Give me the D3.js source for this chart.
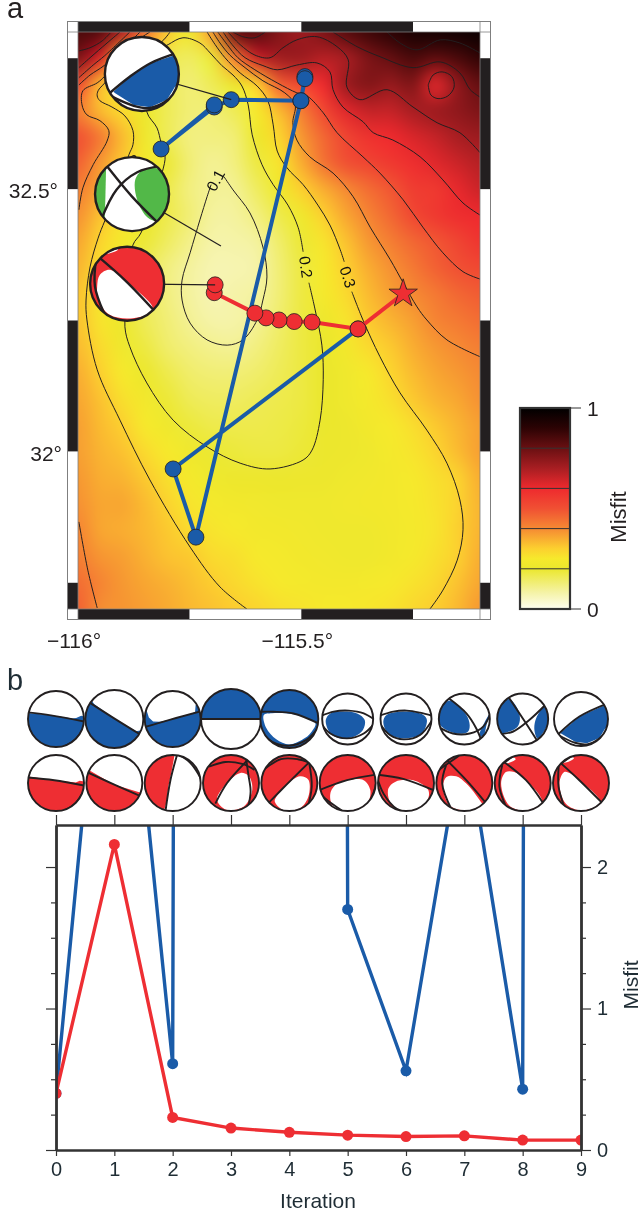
<!DOCTYPE html>
<html>
<head>
<meta charset="utf-8">
<script src="https://cdn.jsdelivr.net/npm/d3@7"></script>
<style>
  html, body { margin:0; padding:0; background:#fff; }
  #wrap { position:relative; width:640px; height:1214px; }
  #wrap canvas, #wrap svg { position:absolute; }
  text { font-family:"Liberation Sans", Arial, sans-serif; }
</style>
<title></title>
</head>
<body>
<div id="wrap"></div>
<script>
// misfit surface, every 0.05 degrees, north to south
var gridLons = d3.range(19).map(function(i){ return -116 + i*0.05; });
var gridLats = d3.range(23).map(function(i){ return 32.8 - i*0.05; });
var misfitGrid = [
 [.85,.83,.68,.45,.31,.22,.38,.80,.83,.76,.72,.77,.83,.87,.90,.94,.95,.96,.97],
 [.77,.63,.32,.22,.17,.15,.19,.42,.65,.71,.72,.68,.70,.77,.81,.85,.82,.85,.89],
 [.52,.33,.22,.19,.16,.13,.16,.21,.30,.47,.52,.60,.72,.76,.73,.76,.62,.74,.81],
 [.42,.33,.28,.21,.16,.13,.13,.16,.25,.33,.42,.52,.62,.66,.66,.70,.72,.74,.77],
 [.50,.43,.33,.22,.16,.12,.12,.13,.21,.29,.38,.46,.53,.58,.60,.63,.66,.70,.72],
 [.47,.38,.31,.24,.19,.13,.10,.12,.18,.26,.35,.44,.50,.53,.56,.59,.62,.65,.68],
 [.42,.36,.29,.23,.17,.12,.10,.10,.15,.22,.30,.35,.40,.45,.49,.55,.56,.61,.65],
 [.39,.32,.26,.21,.17,.13,.09,.09,.12,.17,.22,.30,.36,.41,.46,.52,.56,.59,.60],
 [.36,.29,.24,.19,.15,.11,.08,.08,.09,.14,.19,.26,.32,.38,.42,.46,.49,.53,.57],
 [.34,.27,.21,.16,.12,.09,.07,.07,.08,.13,.18,.25,.30,.35,.39,.43,.47,.50,.52],
 [.32,.26,.205,.16,.12,.09,.07,.08,.09,.13,.18,.24,.28,.33,.37,.40,.43,.46,.48],
 [.32,.26,.21,.16,.13,.10,.08,.08,.10,.14,.18,.21,.26,.31,.34,.37,.41,.43,.45],
 [.33,.28,.22,.18,.14,.12,.105,.10,.12,.15,.18,.20,.23,.28,.31,.35,.38,.40,.42],
 [.35,.30,.25,.205,.17,.14,.13,.13,.14,.16,.18,.20,.22,.25,.29,.33,.36,.38,.40],
 [.36,.32,.27,.23,.19,.16,.15,.15,.16,.17,.18,.20,.22,.24,.27,.31,.34,.36,.39],
 [.37,.33,.30,.25,.22,.185,.17,.17,.17,.175,.185,.20,.21,.23,.25,.275,.31,.34,.37],
 [.37,.34,.32,.28,.25,.22,.195,.185,.18,.18,.19,.205,.21,.22,.24,.26,.29,.33,.37],
 [.38,.35,.34,.31,.27,.24,.22,.21,.21,.205,.21,.21,.22,.225,.235,.25,.27,.295,.35],
 [.39,.36,.36,.33,.295,.26,.24,.23,.225,.22,.22,.22,.225,.23,.235,.245,.265,.295,.34],
 [.41,.36,.35,.335,.31,.28,.26,.25,.235,.23,.225,.22,.22,.22,.23,.24,.26,.30,.34],
 [.42,.385,.37,.345,.32,.31,.28,.27,.25,.24,.23,.225,.22,.22,.23,.245,.27,.30,.35],
 [.45,.41,.38,.36,.345,.325,.305,.285,.265,.25,.24,.235,.235,.24,.25,.265,.285,.32,.36],
 [.47,.395,.385,.37,.355,.335,.32,.305,.29,.27,.26,.25,.25,.255,.265,.285,.305,.335,.38]
];

// colour table of the misfit bar
var cptValues = [0, .08, .2, .25, .3, .4, .5, .6, .7, .8, .9, 1];
var cptColors = ["#fefef0","#f5f3a8","#ebe72d","#f6e92c","#fcd02f","#f58a33","#f05033","#ee2a2e","#a81e22","#6a1012","#2c0304","#000000"];
var cptLines = [.2, .4, .6, .8];

// contour lines [lon, lat]
var contourOne = [[-115.673,32.524],[-115.653,32.499],[-115.615,32.455],[-115.586,32.390],[-115.577,32.333],[-115.586,32.289],[-115.599,32.251],[-115.631,32.213],[-115.666,32.203],[-115.711,32.213],[-115.749,32.245],[-115.767,32.289],[-115.767,32.327],[-115.749,32.379],[-115.727,32.442],[-115.711,32.486],[-115.702,32.509]];
var contourTwo = [[-115.483,32.322],[-115.469,32.270],[-115.454,32.203],[-115.451,32.137],[-115.458,32.060],[-115.476,32.003],[-115.496,31.984],[-115.570,31.967],[-115.637,31.978],[-115.711,32.009],[-115.787,32.060],[-115.846,32.131],[-115.884,32.200],[-115.895,32.238],[-115.888,32.308],[-115.877,32.394],[-115.859,32.417],[-115.812,32.531],[-115.805,32.564],[-115.814,32.589],[-115.823,32.617],[-115.846,32.648],[-115.839,32.699],[-115.816,32.766],[-115.798,32.776],[-115.765,32.789],[-115.727,32.779],[-115.704,32.760],[-115.678,32.736],[-115.653,32.718],[-115.633,32.697],[-115.619,32.661],[-115.610,32.604],[-115.588,32.547],[-115.563,32.509],[-115.530,32.470],[-115.507,32.427],[-115.496,32.381]];
var contourThreeNorth = [[-115.711,32.800],[-115.693,32.776],[-115.671,32.751],[-115.637,32.722],[-115.599,32.697],[-115.575,32.669],[-115.563,32.623],[-115.554,32.573],[-115.532,32.541],[-115.496,32.509],[-115.463,32.470],[-115.436,32.432],[-115.413,32.385],[-115.404,32.362]];
var contourThreeSouth = [[-115.387,32.305],[-115.362,32.251],[-115.324,32.181],[-115.279,32.112],[-115.219,32.041],[-115.174,31.978],[-115.145,31.908],[-115.138,31.851],[-115.151,31.793],[-115.183,31.736],[-115.212,31.700]];
var contourThreeWest = [[-115.794,32.800],[-115.816,32.779],[-115.895,32.747],[-115.940,32.703],[-115.955,32.688],[-115.957,32.678],[-115.951,32.669],[-115.924,32.657],[-115.895,32.640],[-115.877,32.612],[-115.877,32.585],[-115.886,32.566],[-115.910,32.499],[-115.940,32.440],[-115.955,32.407],[-115.973,32.352],[-115.982,32.289],[-115.980,32.251],[-115.957,32.156],[-115.906,32.060],[-115.839,31.946],[-115.749,31.818],[-115.682,31.742],[-115.622,31.700]];
var contourFourEast = [[-115.698,32.800],[-115.682,32.779],[-115.660,32.756],[-115.626,32.732],[-115.586,32.707],[-115.537,32.684],[-115.514,32.661],[-115.519,32.627],[-115.510,32.594],[-115.481,32.562],[-115.429,32.531],[-115.384,32.486],[-115.346,32.428],[-115.301,32.366],[-115.272,32.322],[-115.241,32.276],[-115.219,32.251],[-115.174,32.213],[-115.100,32.181]];
var contourFourWest = [[-115.839,32.800],[-115.895,32.766],[-115.940,32.716],[-115.957,32.703],[-115.989,32.688],[-115.991,32.661],[-115.980,32.642],[-115.951,32.631],[-115.931,32.612],[-115.935,32.592],[-115.966,32.547],[-115.989,32.503],[-115.998,32.461]];
var contourFourCorner = [[-115.998,31.866],[-115.978,31.774],[-115.957,31.702]];
var contourFiveEast = [[-115.687,32.800],[-115.666,32.776],[-115.642,32.751],[-115.604,32.728],[-115.554,32.703],[-115.510,32.684],[-115.487,32.678],[-115.451,32.646],[-115.420,32.608],[-115.362,32.562],[-115.324,32.531],[-115.272,32.480],[-115.228,32.428],[-115.183,32.379],[-115.138,32.343],[-115.100,32.329]];
var contourFiveWest = [[-115.998,32.699],[-115.973,32.718],[-115.940,32.737],[-115.861,32.800]];
var contourSixEast = [[-115.675,32.800],[-115.655,32.776],[-115.626,32.751],[-115.586,32.736],[-115.554,32.728],[-115.510,32.737],[-115.465,32.741],[-115.436,32.724],[-115.429,32.690],[-115.407,32.657],[-115.362,32.629],[-115.339,32.608],[-115.295,32.594],[-115.234,32.562],[-115.183,32.518],[-115.138,32.474],[-115.100,32.451]];
var contourSixWest = [[-115.998,32.713],[-115.966,32.737],[-115.940,32.755],[-115.884,32.800]];
var contourSevenEast = [[-115.664,32.800],[-115.637,32.776],[-115.604,32.756],[-115.570,32.751],[-115.541,32.770],[-115.510,32.785],[-115.465,32.791],[-115.420,32.772],[-115.395,32.747],[-115.398,32.695],[-115.369,32.671],[-115.308,32.690],[-115.250,32.657],[-115.196,32.627],[-115.145,32.608],[-115.100,32.570]];
var contourSevenWest = [[-115.998,32.732],[-115.973,32.751],[-115.935,32.779],[-115.906,32.800]];
var contourSevenLoop = [[-115.216,32.699],[-115.205,32.718],[-115.185,32.724],[-115.163,32.715],[-115.158,32.695],[-115.172,32.678],[-115.194,32.673],[-115.210,32.680],[-115.216,32.699]];
var contourEightTop = [[-115.653,32.800],[-115.631,32.791],[-115.604,32.789],[-115.581,32.800]];
var contourEightEast = [[-115.429,32.800],[-115.375,32.772],[-115.324,32.753],[-115.250,32.732],[-115.189,32.743],[-115.145,32.722],[-115.122,32.690],[-115.100,32.676]];
var contourEightWest = [[-115.998,32.764],[-115.973,32.770],[-115.946,32.783],[-115.928,32.798]];
var contourNine = [[-115.308,32.800],[-115.279,32.779],[-115.241,32.766],[-115.189,32.785],[-115.145,32.779],[-115.100,32.760]];
var contourLines = [contourOne, contourTwo, contourThreeNorth, contourThreeSouth, contourThreeWest, contourFourEast, contourFourWest, contourFourCorner, contourFiveEast, contourFiveWest, contourSixEast, contourSixWest, contourSevenEast, contourSevenWest, contourSevenLoop, contourEightTop, contourEightEast, contourEightWest, contourNine];
var contourLabels = [
  {text:"0.1", lon:-115.692, lat:32.517, rot:-62},
  {text:"0.2", lon:-115.490, lat:32.352, rot:82},
  {text:"0.3", lon:-115.396, lat:32.333, rot:72},
  {text:"0.3", lon:-115.888, lat:32.551, rot:-20}
];

// source location and inversion tracks on the map
var epicentre = [-115.272, 32.301];
var redTrack = [[-115.272,32.301],[-115.373,32.234],[-115.476,32.247],[-115.516,32.248],[-115.550,32.251],[-115.579,32.255],[-115.604,32.264],[-115.695,32.303],[-115.693,32.318]];
var blueTrack = [[-115.373,32.234],[-115.787,31.967],[-115.736,31.837],[-115.501,32.669],[-115.492,32.715],[-115.492,32.711],[-115.501,32.669],[-115.657,32.671],[-115.695,32.657],[-115.814,32.577],[-115.695,32.661]];

// misfit per iteration (blue runs far off the top of the plot)
var iterations = d3.range(10);
var redMisfit = [.40, 2.16, .23, .155, .125, .105, .095, .10, .07, .07];
var blueMisfit = [.40, 4.7, .61, 150, 150, 1.7, .56, 3.0, .43, 150];
var yMajor = [0, 1, 2];
var yMinor = [.25, .5, .75, 1.25, 1.5, 1.75];

// beachballs, outlines in percent of the radius, y pointing down
var mechFinal = {fills:[[[-77,48],[-32,7],[23,-29],[90,-51],[125,-51],[125,40],[90,34],[68,70],[22,90],[-22,84],[-72,52]]],
  lines:[[[-82,50],[-32,7],[23,-29],[95,-54]],[[-82,50],[-22,86],[22,92],[68,72],[95,30]]]};
var mechGreen = {fills:[[[-70,-80],[-72,7],[-74,70],[-125,70],[-125,-80]],[[9,-40],[33,-68],[75,-68],[120,-40],[98,40],[70,72],[42,63],[14,16]]],
  lines:[[[-65,-73],[0,7],[65,72]],[[70,-68],[14,-59],[-42,-12],[-75,63]]]};
var mechRed = {full:true, holes:[[[-81,7],[-74,-24],[-47,-38],[-2,-6],[70,70],[16,93],[-47,84],[-78,43]],[[-70,-80],[-25,-92],[-30,-100],[-70,-88]]],
  lines:[[[-74,-69],[-2,-6],[70,70]],[[-74,-69],[-32,-96],[23,-98]],[[-74,-69],[-87,7],[-56,70]]]};
var topBalls = [
  {fills:[[[-125,-24],[-18,-13],[60,-2],[72,-4],[90,-12],[125,0],[125,125],[-125,125]]], lines:[[[-96,-22],[-18,-13],[90,8]],[[96,20],[66,75],[0,101]]]},
  {fills:[[[-85,-75],[-70,-52],[-2,-3],[75,42],[90,40],[125,60],[125,125],[-125,125],[-125,-75]]], lines:[[[-83,-55],[-2,-3],[90,54]]]},
  {fills:[[[-125,-40],[-93,-30],[-85,-5],[-70,9],[-45,10],[-8,2],[60,-16],[80,-25],[82,-50],[125,-50],[125,125],[-125,125]]], lines:[[[-96,28],[-8,2],[98,-27]]]},
  {fills:[[[-125,0],[125,0],[125,-125],[-125,-125]]], lines:[[[-97,0],[97,0]]]},
  {full:true, holes:[[[-88,-14],[-60,-20],[14,-16],[90,15],[78,42],[55,65],[0,88],[-45,70],[-80,30]]], lines:[[[-94,-22],[-55,-25],[14,-19],[93,15]],[[-98,15],[-77,66],[-9,92],[59,72],[93,20]]]},
  {fills:[[[-86,4],[-68,-22],[-29,-29],[37,-22],[67,4],[60,43],[24,70],[-29,76],[-68,57]]], lines:[[[-97,-9],[-55,-29],[4,-33],[63,-22],[100,7]],[[-97,10],[-68,57],[-3,76],[63,57],[100,7]]]},
  {fills:[[[-89,10],[-76,-16],[3,-29],[68,-16],[82,4],[62,57],[-10,76],[-70,57]]], lines:[[[-100,-9],[-50,-29],[3,-33],[55,-25],[99,-9]],[[-96,10],[-63,63],[-10,80],[55,63],[99,-9]]]},
  {fills:[[[-51,-72],[8,-16],[21,24],[14,50],[-32,57],[-95,24],[-100,-22],[-78,-62]],[[100,-22],[87,24],[74,70],[60,63],[74,24]]], lines:[[[-58,-75],[8,-22],[47,37],[60,76]],[[-97,24],[-45,57],[21,57],[74,30],[100,-42]]]},
  {fills:[[[-53,-78],[-13,-22],[-20,30],[-92,54],[-101,4],[-86,-49]],[[86,-49],[103,4],[59,76],[46,43],[53,-3]]], lines:[[[-53,-82],[13,17],[53,80]],[[-99,54],[-39,50],[26,4],[79,-49]]]},
  {fills:[[[-77,52],[-6,-9],[94,-54],[125,-54],[125,40],[90,34],[68,70],[22,90],[-22,84]]], lines:[[[-77,52],[-6,-9],[94,-54]],[[-77,52],[-22,88],[22,94],[68,72],[95,30]]]}
];
var bottomBalls = [
  {fills:[[[-125,-24],[-92,-22],[-6,-10],[70,-2],[85,-8],[100,-5],[125,125],[-125,125]]], lines:[[[-95,-18],[-6,-10],[89,8]],[[94,15],[66,75],[0,101]]]},
  {fills:[[[-125,-50],[-88,-45],[-2,5],[80,30],[95,35],[125,60],[125,125],[-125,125]]], lines:[[[-92,-37],[-2,5],[93,46]]]},
  {fills:[[[10,-125],[5,-90],[-4,-40],[-15,10],[-22,70],[-30,95],[-125,125],[-125,-125]]], lines:[[[15,-93],[-8,-10],[-24,98]],[[15,-93],[60,-75],[90,-35],[100,10]]]},
  {full:true, holes:[[[-50,54],[-14,0],[34,-36],[64,-24],[76,24],[46,84],[-14,96],[-45,72]]], lines:[[[-50,66],[-14,0],[58,-78]],[[-70,-52],[-20,-75],[40,-68],[75,-42]],[[48,-80],[62,-30],[70,30],[55,75]]]},
  {full:true, holes:[[[-46,48],[-10,6],[38,-24],[68,-12],[68,48],[38,90],[-22,96],[-52,66]]], lines:[[[-63,60],[-10,6],[63,-66]],[[-85,-40],[-30,-85],[30,-85],[63,-66]],[[63,-66],[80,12],[57,84]]]},
  {full:true, holes:[[[-62,38],[-38,2],[-2,-10],[57,-10],[81,26],[69,74],[10,98],[-50,86]]], lines:[[[-98,26],[-2,-10],[93,-27]],[[93,-27],[99,14],[57,86]],[[-98,26],[-62,70],[0,100]]]},
  {full:true, holes:[[[-63,20],[-39,-4],[26,-10],[80,26],[74,68],[38,98],[-21,98],[-57,68]]], lines:[[[-95,-27],[-10,-15],[95,26]],[[-95,-27],[-80,38],[-33,92],[26,98]]]},
  {full:true, holes:[[[-76,14],[-64,-21],[-29,-24],[7,2],[55,62],[67,86],[7,98],[-52,80]]], lines:[[[-58,-75],[7,-10],[69,64]],[[-94,-33],[-17,-87]],[[-58,-57],[-79,2],[-40,86]]]},
  {full:true, holes:[[[-77,2],[-60,-39],[-30,-39],[12,-10],[69,68],[12,98],[-48,80]],[[-62,-70],[-25,-85],[-35,-92],[-70,-78]]], lines:[[[-65,-71],[12,-10],[65,64]],[[-95,-39],[-24,-90]],[[-65,-57],[-83,14],[-48,86]]]},
  {full:true, holes:[[[-77,2],[-60,-39],[-36,-33],[-6,-10],[68,68],[6,98],[-54,74]],[[-60,-72],[-25,-88],[-35,-95],[-70,-80]]], lines:[[[-71,-69],[-6,-10],[68,64]],[[-95,-39],[-18,-95]],[[-71,-57],[-80,14],[-54,74]]]}
];
var mapBalls = [
  {lon:-115.857, lat:32.720, target:[-115.657,32.671], mech:mechFinal, color:"#1a5ba8"},
  {lon:-115.879, lat:32.491, target:[-115.680,32.392], mech:mechGreen, color:"#52b848"},
  {lon:-115.890, lat:32.320, target:[-115.693,32.318], mech:mechRed, color:"#ee2e33"}
];
var lonEdges = [-116, -115.75, -115.5, -115.25, -115.1];
var latEdges = [32.8, 32.75, 32.5, 32.25, 32, 31.75, 31.7];
var lonTicks = [-116, -115.5];
var latTicks = [32, 32.5];

// ---- layout
var blue = "#1a5ba8", red = "#ee2e33", ink = "#231f20", slate = "#1f2d35";
var lon = d3.scaleLinear().domain([-116, -115.1]).range([78, 480]);
var lat = d3.scaleLinear().domain([31.7, 32.8]).range([609, 32]);
var cpt = d3.scaleLinear().domain(cptValues).range(cptColors);
var wrap = d3.select("#wrap");

// misfit surface: one pixel per grid node, smoothed up by the canvas
var small = document.createElement("canvas");
small.width = gridLons.length; small.height = gridLats.length;
var sctx = small.getContext("2d");
misfitGrid.forEach(function(row, j){
  row.forEach(function(v, i){
    sctx.fillStyle = cpt(v);
    sctx.fillRect(i, j, 1, 1);
  });
});
var canvas = wrap.append("canvas").attr("width", 402).attr("height", 577)
  .style("left", "78px").style("top", "32px");
var ctx = canvas.node().getContext("2d");
ctx.imageSmoothingEnabled = true;
ctx.imageSmoothingQuality = "high";
ctx.drawImage(small, 0.5, 0.5, small.width-1, small.height-1, 0, 0, 402, 577);

var svg = wrap.append("svg").attr("width", 640).attr("height", 1214);
var defs = svg.append("defs");
var smooth = d3.line().x(function(d){ return lon(d[0]); }).y(function(d){ return lat(d[1]); }).curve(d3.curveCatmullRom.alpha(.5));
var straight = d3.line().x(function(d){ return lon(d[0]); }).y(function(d){ return lat(d[1]); });

defs.append("clipPath").attr("id", "mapclip").append("rect")
  .attr("x", 78).attr("y", 32).attr("width", 402).attr("height", 577);

// contours
svg.append("g").attr("clip-path", "url(#mapclip)").selectAll("path").data(contourLines).join("path")
  .attr("d", smooth).attr("fill", "none").attr("stroke", ink).attr("stroke-width", 1);
svg.append("g").selectAll("text").data(contourLabels).join("text")
  .attr("transform", function(d){ return "translate(" + lon(d.lon) + "," + lat(d.lat) + ") rotate(" + d.rot + ")"; })
  .attr("text-anchor", "middle").attr("dy", ".35em").attr("font-size", 15.5).attr("fill", "#111").text(function(d){ return d.text; });

// map frame, alternating bands on all four sides
var frame = svg.append("g");
var band = 10.5;
d3.pairs(lonEdges).forEach(function(p, i){
  [32-band, 609].forEach(function(y){
    frame.append("rect").attr("x", lon(p[0])).attr("y", y).attr("width", lon(p[1])-lon(p[0])).attr("height", band)
      .attr("fill", i%2 ? "#fff" : ink);
  });
});
d3.pairs(latEdges).forEach(function(p, i){
  [78-band, 480].forEach(function(x){
    frame.append("rect").attr("x", x).attr("y", lat(p[0])).attr("width", band).attr("height", lat(p[1])-lat(p[0]))
      .attr("fill", i%2 ? ink : "#fff");
  });
});
frame.append("rect").attr("x", 78-band).attr("y", 32-band).attr("width", 402+2*band).attr("height", 577+2*band)
  .attr("fill", "none").attr("stroke", "#7f7f7f").attr("stroke-width", 1);
[78, 480].forEach(function(vx){
  frame.append("line").attr("x1", vx).attr("x2", vx).attr("y1", 32-band).attr("y2", 609+band).attr("stroke", "#7f7f7f").attr("stroke-width", .8);
});
[32, 609].forEach(function(hy){
  frame.append("line").attr("y1", hy).attr("y2", hy).attr("x1", 78-band).attr("x2", 480+band).attr("stroke", "#7f7f7f").attr("stroke-width", .8);
});

// tracks
function track(points, color){
  svg.append("path").attr("d", straight(points)).attr("fill", "none").attr("stroke", color).attr("stroke-width", 4);
}
function dots(points, color){
  svg.append("g").selectAll("circle").data(points).join("circle")
    .attr("cx", function(d){ return lon(d[0]); }).attr("cy", function(d){ return lat(d[1]); }).attr("r", 8)
    .attr("fill", color).attr("stroke", ink).attr("stroke-width", .8);
}
track(blueTrack, blue);
dots(blueTrack, blue);
track(redTrack, red);
dots(redTrack.slice(1), red);
svg.append("path").attr("d", d3.symbol().type(d3.symbolStar).size(250)())
  .attr("transform", "translate(" + lon(epicentre[0]) + "," + lat(epicentre[1]) + ")")
  .attr("fill", red).attr("stroke", ink).attr("stroke-width", .8);

// beachballs
var ballCount = 0;
function drawBall(parent, cx, cy, r, mech, color, sw){
  var u = d3.scaleLinear().domain([-100, 100]).range([-r, r]);
  var linear = d3.line().x(function(d){ return u(d[0]); }).y(function(d){ return u(d[1]); });
  var blob = d3.line().x(function(d){ return u(d[0]); }).y(function(d){ return u(d[1]); }).curve(d3.curveCatmullRomClosed.alpha(.5));
  var open = d3.line().x(function(d){ return u(d[0]); }).y(function(d){ return u(d[1]); }).curve(d3.curveCatmullRom.alpha(.5));
  // shapes running outside the ball keep their corners, the clip trims them
  function shape(p){
    var far = d3.max(p, function(d){ return Math.max(Math.abs(d[0]), Math.abs(d[1])); });
    return far >= 125 ? linear(p) + "Z" : blob(p);
  }
  // nodal lines that end near the rim are carried on to it
  function toRim(d){
    var k = Math.hypot(d[0], d[1]) > 80 ? 1.12 : 1;
    return [d[0]*k, d[1]*k];
  }
  var id = "ball" + (ballCount++);
  defs.append("clipPath").attr("id", id).append("circle").attr("r", r);
  var g = parent.append("g").attr("transform", "translate(" + cx + "," + cy + ")");
  var inner = g.append("g").attr("clip-path", "url(#" + id + ")");
  inner.append("circle").attr("r", r).attr("fill", mech.full ? color : "#fff");
  (mech.fills || []).forEach(function(p){ inner.append("path").attr("d", shape(p)).attr("fill", color); });
  (mech.holes || []).forEach(function(p){ inner.append("path").attr("d", shape(p)).attr("fill", "#fff"); });
  mech.lines.forEach(function(p){
    var q = p.slice();
    q[0] = toRim(q[0]); q[q.length-1] = toRim(q[q.length-1]);
    inner.append("path").attr("d", open(q)).attr("fill", "none").attr("stroke", ink).attr("stroke-width", sw);
  });
  g.append("circle").attr("r", r).attr("fill", "none").attr("stroke", ink).attr("stroke-width", sw);
}
mapBalls.forEach(function(b){
  svg.append("line").attr("x1", lon(b.lon)).attr("y1", lat(b.lat)).attr("x2", lon(b.target[0])).attr("y2", lat(b.target[1]))
    .attr("stroke", ink).attr("stroke-width", 1.2);
});
mapBalls.forEach(function(b){
  drawBall(svg, lon(b.lon), lat(b.lat), 37, b.mech, b.color, 2.4);
});

// map labels
function label(x, y, s, size, anchor, color){
  return svg.append("text").attr("x", x).attr("y", y).attr("font-size", size).attr("text-anchor", anchor || "start")
    .attr("fill", color || ink).text(s);
}
label(7, 18, "a", 29);
lonTicks.forEach(function(d){
  label(lon(d)-4, 648, (d < 0 ? "\u2212" : "") + Math.abs(d) + "\u00b0", 21, "middle");
});
latTicks.forEach(function(d){
  label(d === 32 ? 62 : 58, lat(d)+9, d + "\u00b0", 21, "end");
});

// misfit bar
var barY = d3.scaleLinear().domain([0, 1]).range([609, 408]);
var grad = defs.append("linearGradient").attr("id", "cptgrad").attr("x1", 0).attr("x2", 0).attr("y1", 1).attr("y2", 0);
cptValues.forEach(function(v, i){
  grad.append("stop").attr("offset", v).attr("stop-color", cptColors[i]);
});
svg.append("rect").attr("x", 520).attr("y", 408).attr("width", 50).attr("height", 201)
  .attr("fill", "url(#cptgrad)").attr("stroke", "#333").attr("stroke-width", 2.2);
svg.append("g").selectAll("line").data(cptLines).join("line")
  .attr("x1", 520).attr("x2", 570).attr("y1", barY).attr("y2", barY).attr("stroke", "#333").attr("stroke-width", 1);
[0, 1].forEach(function(d){
  svg.append("line").attr("x1", 570).attr("x2", 581).attr("y1", barY(d)).attr("y2", barY(d)).attr("stroke", "#333").attr("stroke-width", 1);
  label(587, barY(d)+8, d, 21);
});
svg.append("text").attr("transform", "translate(626,517) rotate(-90)").attr("text-anchor", "middle")
  .attr("font-size", 22).attr("fill", ink).text("Misfit");

// ---- iteration plot
label(7, 690, "b", 29, "start", slate);
var x = d3.scaleLinear().domain([0, 9]).range([56, 581]);
var y = d3.scaleLinear().domain([0, 2.297]).range([1150, 825]);

topBalls.forEach(function(m, i){
  drawBall(svg, x(i), 719, [28,29,28,30,29,25.5,25.5,25.5,25.5,27][i], m, blue, 1.9);
});
bottomBalls.forEach(function(m, i){
  drawBall(svg, x(i), 783, 28, m, red, 1.9);
});

defs.append("clipPath").attr("id", "plotclip").append("rect")
  .attr("x", x(0)).attr("y", y(2.297)).attr("width", x(9)-x(0)).attr("height", y(0)-y(2.297));
var plot = svg.append("g").attr("clip-path", "url(#plotclip)");
var seriesLine = d3.line().x(function(d, i){ return x(i); }).y(function(d){ return y(d); });
[[blueMisfit, blue], [redMisfit, red]].forEach(function(s){
  plot.append("path").attr("d", seriesLine(s[0])).attr("fill", "none").attr("stroke", s[1]).attr("stroke-width", 3.4);
  plot.append("g").selectAll("circle").data(iterations).join("circle")
    .attr("cx", x).attr("cy", function(i){ return y(s[0][i]); }).attr("r", 5.5).attr("fill", s[1]);
});

function styleAxis(g, size){
  g.attr("font-family", "Liberation Sans, Arial, sans-serif").attr("font-size", size || 20);
  g.selectAll("text").attr("fill", slate);
  g.selectAll("path,line").attr("stroke", "#333").attr("stroke-width", 1.2);
  g.select(".domain").attr("stroke-width", 2.4);
  return g;
}
svg.append("g").attr("transform", "translate(0,1150)")
  .call(d3.axisBottom(x).tickValues(iterations).tickFormat(d3.format("d")).tickSizeInner(6).tickSizeOuter(0).tickPadding(6)).call(styleAxis);
svg.append("g").attr("transform", "translate(0,825)")
  .call(d3.axisTop(x).tickValues(iterations).tickFormat("").tickSizeInner(10).tickSizeOuter(0)).call(styleAxis);
svg.append("g").attr("transform", "translate(56,0)")
  .call(d3.axisLeft(y).tickValues(yMajor).tickFormat("").tickSizeInner(10).tickSizeOuter(0)).call(styleAxis);
svg.append("g").attr("transform", "translate(56,0)")
  .call(d3.axisLeft(y).tickValues(yMinor).tickFormat("").tickSizeInner(5).tickSizeOuter(0)).call(styleAxis);
svg.append("g").attr("transform", "translate(581,0)")
  .call(d3.axisRight(y).tickValues(yMajor).tickFormat(d3.format("d")).tickSizeInner(10).tickSizeOuter(0).tickPadding(6)).call(styleAxis);
svg.append("g").attr("transform", "translate(581,0)")
  .call(d3.axisRight(y).tickValues(yMinor).tickFormat("").tickSizeInner(5).tickSizeOuter(0)).call(styleAxis);
label(318, 1208, "Iteration", 21, "middle", slate);
svg.append("text").attr("transform", "translate(638,985) rotate(-90)").attr("text-anchor", "middle")
  .attr("font-size", 21).attr("fill", slate).text("Misfit");
</script>
</body>
</html>
